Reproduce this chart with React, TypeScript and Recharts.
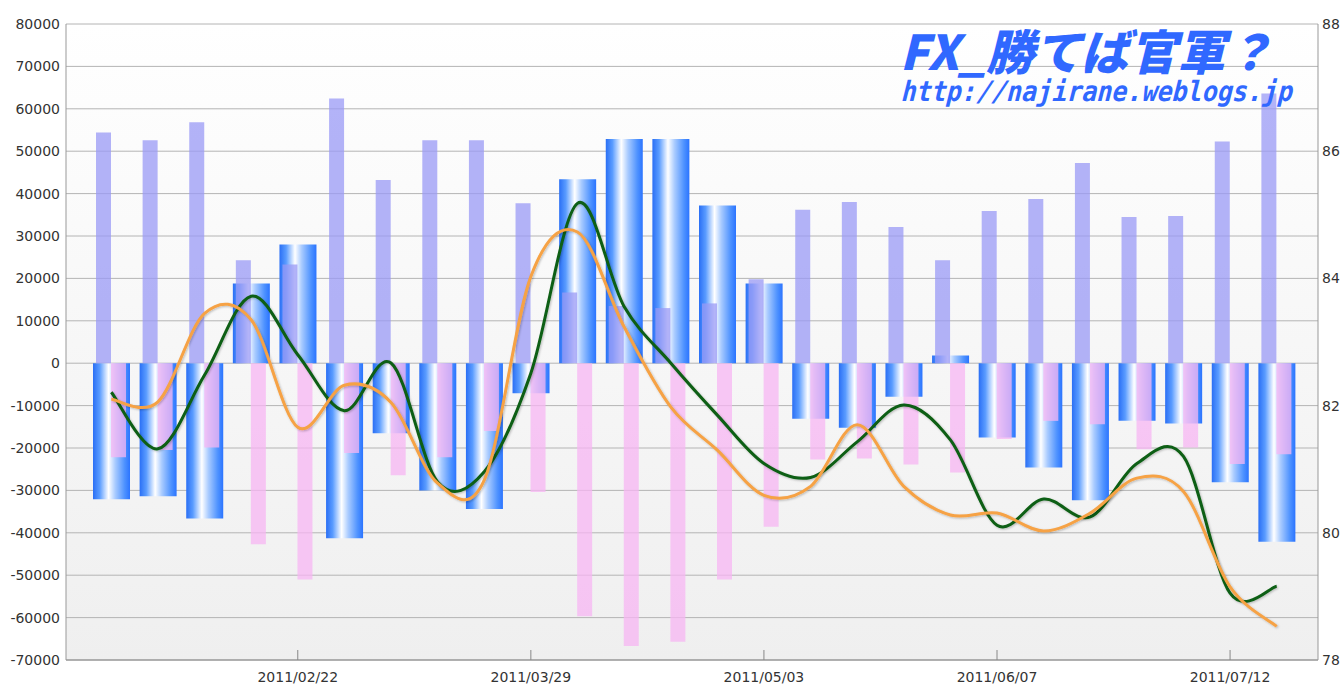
import {
  ComposedChart, Bar, Line, XAxis, YAxis, CartesianGrid,
} from 'recharts'

const dates = [
  '2011/01/25', '2011/02/01', '2011/02/08', '2011/02/15', '2011/02/22', '2011/03/01',
  '2011/03/08', '2011/03/15', '2011/03/22', '2011/03/29', '2011/04/05', '2011/04/12',
  '2011/04/19', '2011/04/26', '2011/05/03', '2011/05/10', '2011/05/17', '2011/05/24',
  '2011/05/31', '2011/06/07', '2011/06/14', '2011/06/21', '2011/06/28', '2011/07/05',
  '2011/07/12', '2011/07/19',
]
const tickLabels = ['2011/02/22', '2011/03/29', '2011/05/03', '2011/06/07', '2011/07/12']

// net position (blue cylinders)
const net = [
  -32100, -31400, -36600, 18800, 28000, -41300, -16500, -30000, -34400, -7100,
  43400, 52900, 52900, 37200, 18800, -13100, -15200, -7900, 1800, -17500,
  -24600, -32300, -13600, -14200, -28100, -42100,
]
// long (purple)
const longs = [
  54400, 52600, 56800, 24300, 23300, 62400, 43200, 52600, 52600, 37700,
  16700, 13500, 13000, 14100, 19800, 36200, 38000, 32100, 24300, 35900,
  38700, 47200, 34500, 34700, 52300, 63600,
]
// short (pink)
const shorts = [
  -22200, -20500, -19900, -42700, -51000, -21200, -26400, -22200, -16000, -30400,
  -59700, -66700, -65700, -51000, -38600, -22700, -22500, -23900, -25800, -17900,
  -13600, -14400, -20300, -19900, -23800, -21500,
]
const green = [
  82.21, 81.32, 82.48, 83.72, 82.8, 81.92, 82.67, 80.8, 80.96, 82.51,
  85.18, 83.56, 82.67, 81.85, 81.09, 80.87, 81.43, 82.01, 81.46, 80.12,
  80.53, 80.25, 81.09, 81.2, 79.05, 79.16,
]
const orange = [
  82.1, 82.06, 83.45, 83.35, 81.66, 82.32, 82.05, 80.78, 80.83, 84.03,
  84.73, 83.24, 81.98, 81.3, 80.59, 80.73, 81.7, 80.73, 80.28, 80.31,
  80.03, 80.31, 80.86, 80.65, 79.15, 78.53,
]

const leftTicks = [-70000, -60000, -50000, -40000, -30000, -20000, -10000, 0,
  10000, 20000, 30000, 40000, 50000, 60000, 70000, 80000]
const rightTicks = [78, 80, 82, 84, 86, 88]

const data = dates.map((d, i) => ({
  date: d,
  net: net[i],
  long: longs[i],
  short: shorts[i],
  green: green[i],
  orange: orange[i],
}))

const font = '"DejaVu Sans", sans-serif'
const tickStyle = { fontSize: 14, fill: '#333', fontFamily: font }

// catmull-rom spline through the points, like the original chart's smoothing
const smooth = (context: any) => {
  let pts: number[][] = []
  return {
    areaStart() {},
    areaEnd() {},
    lineStart() { pts = [] },
    point(x: number, y: number) { pts.push([+x, +y]) },
    lineEnd() {
      if (!pts.length) return
      context.moveTo(pts[0][0], pts[0][1])
      for (let i = 0; i < pts.length - 1; i++) {
        const p0 = pts[i - 1] || pts[i]
        const p1 = pts[i]
        const p2 = pts[i + 1]
        const p3 = pts[i + 2] || p2
        context.bezierCurveTo(
          p1[0] + (p2[0] - p0[0]) / 6, p1[1] + (p2[1] - p0[1]) / 6,
          p2[0] - (p3[0] - p1[0]) / 6, p2[1] - (p3[1] - p1[1]) / 6,
          p2[0], p2[1],
        )
      }
    },
  }
}

const XTick = (props: any) => {
  const { x, y, payload } = props
  if (!tickLabels.includes(payload.value)) return null
  return (
    <g>
      <line x1={x} x2={x} y1={y - 10} y2={y} stroke="#888" />
      <text x={x} y={y + 22} textAnchor="middle" fontSize={14} fill="#333" fontFamily={font}>
        {payload.value}
      </text>
    </g>
  )
}

export default function App() {
  return (
    <div style={{ position: 'absolute', left: 0, top: 0, width: 1341, height: 686 }}>
      <ComposedChart
        width={1341}
        height={686}
        data={data}
        margin={{ top: 24, right: 0, left: 0, bottom: 0 }}
        barGap={0}
      >
        <defs>
          <linearGradient id="cyl" x1="0" y1="0" x2="1" y2="0">
            <stop offset="0%" stopColor="#2a6ff5" />
            <stop offset="18%" stopColor="#5a9cff" />
            <stop offset="42%" stopColor="#ffffff" />
            <stop offset="60%" stopColor="#a9cbff" />
            <stop offset="85%" stopColor="#4f93ff" />
            <stop offset="100%" stopColor="#2b74ff" />
          </linearGradient>
          <linearGradient id="bg" x1="0" y1="0" x2="0" y2="1">
            <stop offset="0%" stopColor="#ffffff" />
            <stop offset="100%" stopColor="#efefef" />
          </linearGradient>
          <filter id="shadow" x="-5%" y="-5%" width="110%" height="110%">
            <feDropShadow dx="1" dy="1" stdDeviation="1" floodColor="#000" floodOpacity="0.25" />
          </filter>
        </defs>
        <CartesianGrid
          yAxisId="left"
          xAxisId="main"
          vertical={false}
          stroke="#b4b4b4"
          fill="url(#bg)"
          fillOpacity={1}
        />
        <XAxis
          xAxisId="main"
          dataKey="date"
          interval={0}
          tick={<XTick />}
          tickLine={false}
          tickSize={0}
          tickMargin={0}
          height={26}
          padding={{ left: 22, right: 18 }}
          axisLine={{ stroke: '#888' }}
        />
        <XAxis xAxisId="pp" dataKey="date" hide padding={{ left: 22, right: 18 }} />
        <YAxis
          yAxisId="left"
          domain={[-70000, 80000]}
          ticks={leftTicks}
          interval={0}
          width={66}
          tick={tickStyle}
          tickLine={false}
          tickSize={0}
          tickMargin={6}
          axisLine={{ stroke: '#999' }}
        />
        <YAxis
          yAxisId="right"
          orientation="right"
          domain={[78, 88]}
          ticks={rightTicks}
          interval={0}
          width={23}
          tick={tickStyle}
          tickLine={false}
          tickSize={0}
          tickMargin={4}
          axisLine={{ stroke: '#999' }}
        />
        <Bar xAxisId="main" yAxisId="left" dataKey="net" fill="url(#cyl)" barSize={37} isAnimationActive={false} />
        <Bar xAxisId="pp" yAxisId="left" dataKey="long" fill="#9999f5" fillOpacity={0.75} barSize={15} isAnimationActive={false} />
        <Bar xAxisId="pp" yAxisId="left" dataKey="short" fill="#f7b5f3" fillOpacity={0.75} barSize={15} isAnimationActive={false} />
        <Line
          xAxisId="main"
          yAxisId="right"
          type={smooth as any}
          dataKey="green"
          stroke="#0b5e12"
          strokeWidth={3}
          dot={false}
          filter="url(#shadow)"
          isAnimationActive={false}
        />
        <Line
          xAxisId="main"
          yAxisId="right"
          type={smooth as any}
          dataKey="orange"
          stroke="#f6a244"
          strokeWidth={3}
          dot={false}
          filter="url(#shadow)"
          isAnimationActive={false}
        />
      </ComposedChart>
      <div
        style={{
          position: 'absolute', left: 905, top: 25, color: '#3068ff',
          fontFamily: '"Noto Sans CJK JP", sans-serif', fontWeight: 900, fontSize: 48,
          lineHeight: 1, transform: 'skewX(-14deg)', whiteSpace: 'nowrap',
        }}
      >
        FX_勝てば官軍？
      </div>
      <div
        style={{
          position: 'absolute', left: 906, top: 77, color: '#3068ff',
          fontFamily: '"DejaVu Sans Mono", monospace', fontWeight: 700, fontSize: 25,
          lineHeight: 1, transform: 'skewX(-14deg) scaleY(1.12)', transformOrigin: 'left top',
          whiteSpace: 'nowrap',
        }}
      >
        http://najirane.weblogs.jp
      </div>
    </div>
  )
}
